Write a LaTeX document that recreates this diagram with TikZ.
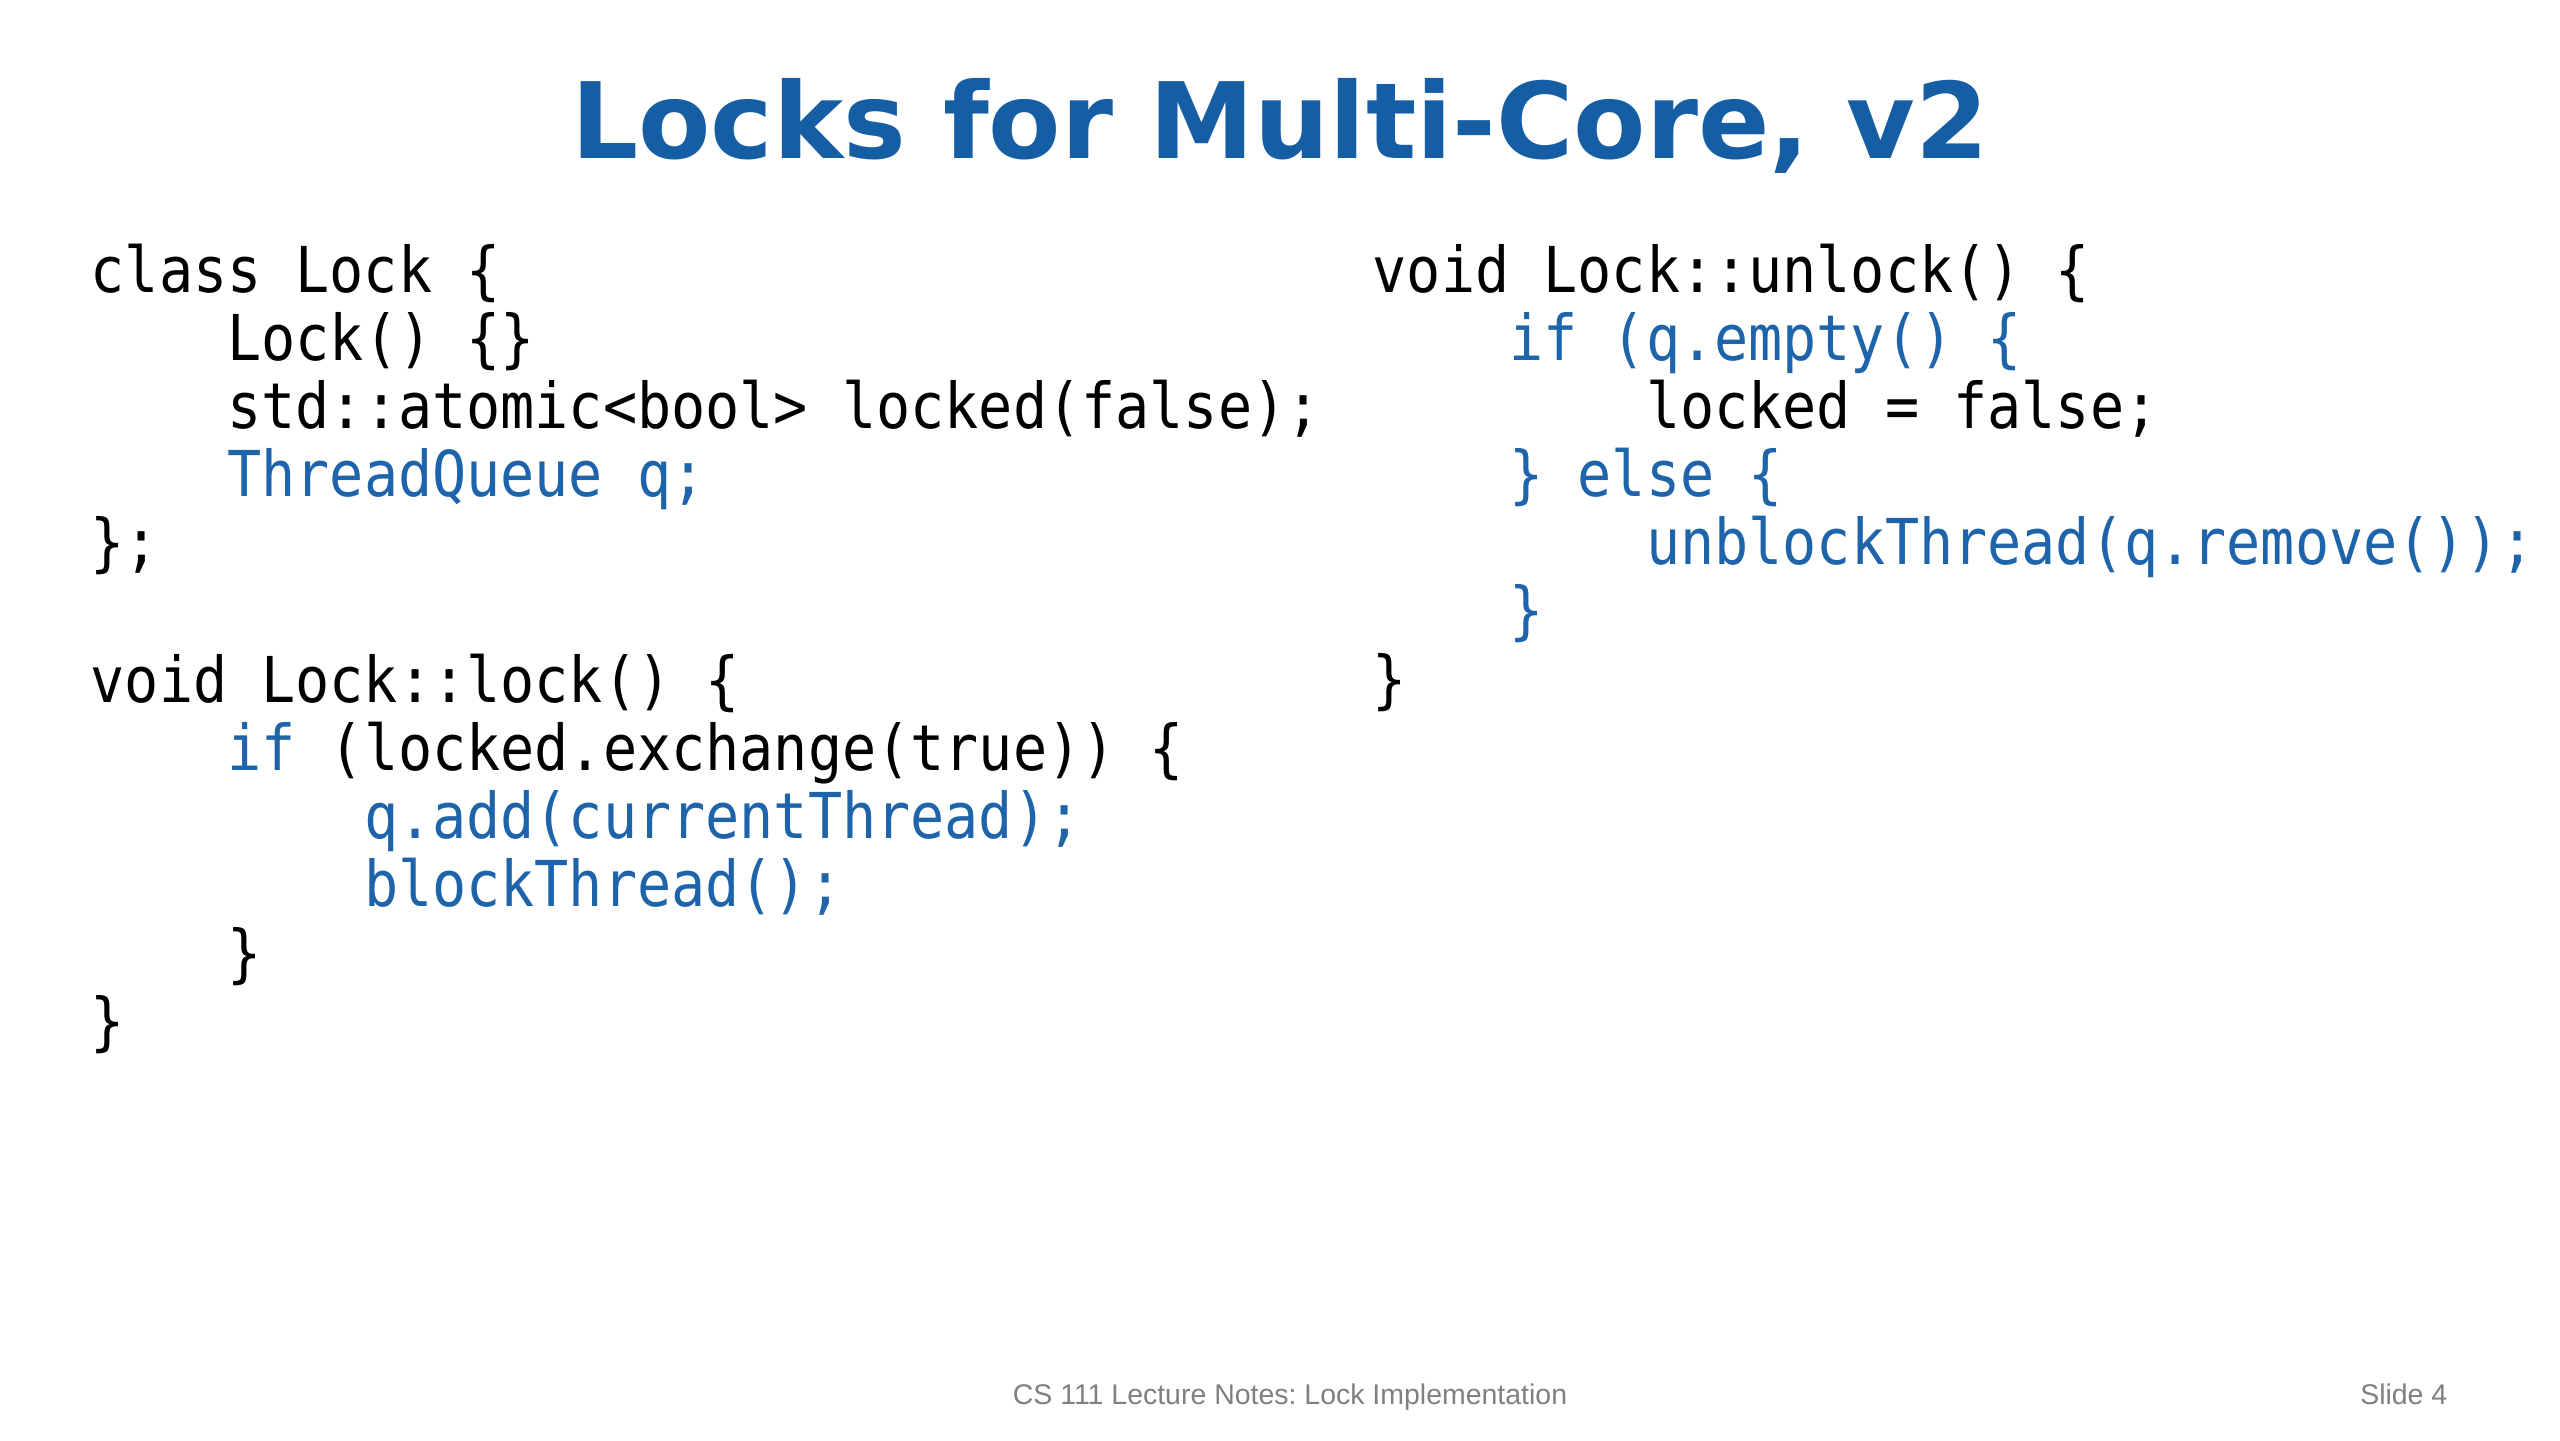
\documentclass[tikz,border=0pt]{standalone}
\usepackage{fontspec}
\usepackage{tikz}
\usetikzlibrary{positioning}
\newfontfamily\titlefont{DejaVu Sans}
\newfontfamily\codefont[FakeStretch=0.897]{DejaVu Sans Mono}
\newfontfamily\footfont{Liberation Sans}
\definecolor{slideblue}{RGB}{22,94,164}
\definecolor{codeblue}{RGB}{30,100,170}
\definecolor{footgray}{RGB}{128,128,128}
\newlength{\codecharwd}
\newcommand{\codesetup}{\codefont\fontsize{18}{19.4}\selectfont\settowidth{\codecharwd}{x}}
\newcommand{\codespaces}{\frenchspacing\spaceskip=\codecharwd\xspaceskip=\codecharwd\relax}
\tikzstyle{code} = [anchor=base west, inner sep=0pt, text width=13cm, align=left, font=\codesetup, execute at begin node=\codespaces]
\tikzstyle{foot} = [anchor=base, inner sep=0pt, text=footgray, font=\footfont\fontsize{8.1}{10}\selectfont\frenchspacing]
\newcommand{\codetab}{\phantom{xxxx}}
\newcommand{\kw}[1]{\textcolor{codeblue}{#1}}

\begin{document}
\begin{tikzpicture}
    \fill [white] (0,0) rectangle (25.6,-14.4);
    \useasboundingbox (0,0) rectangle (25.6,-14.4);
    \node [anchor=base, inner sep=0pt, text=slideblue, font=\titlefont\bfseries\fontsize{30}{36}\selectfont] (title) at (12.8,-1.58) {Locks for Multi-Core, v2};
    \node [code] (classdef) at (0.9,-2.92) {class Lock \{\\
        \codetab Lock() \{\}\\
        \codetab std::atomic<bool> locked(false);\\
        \codetab\kw{ThreadQueue q;}\\
        \};};
    \node [code] (lockfn) at (0.9,-7.024) {void Lock::lock() \{\\
        \codetab\kw{if} (locked.exchange(true)) \{\\
        \codetab\codetab\kw{q.add(currentThread);}\\
        \codetab\codetab\kw{blockThread();}\\
        \codetab\}\\
        \}};
    \node [code] (unlockfn) at (13.72,-2.92) {void Lock::unlock() \{\\
        \codetab\kw{if (q.empty() \{}\\
        \codetab\codetab locked = false;\\
        \codetab\kw{\} else \{}\\
        \codetab\codetab\kw{unblockThread(q.remove());}\\
        \codetab\kw{\}}\\
        \}};
    \node [foot] (course) at (12.9,-14.04) {CS 111 Lecture Notes: Lock Implementation};
    \node [foot, anchor=base east] (slideno) at (24.48,-14.04) {Slide 4};
\end{tikzpicture}
\end{document}
